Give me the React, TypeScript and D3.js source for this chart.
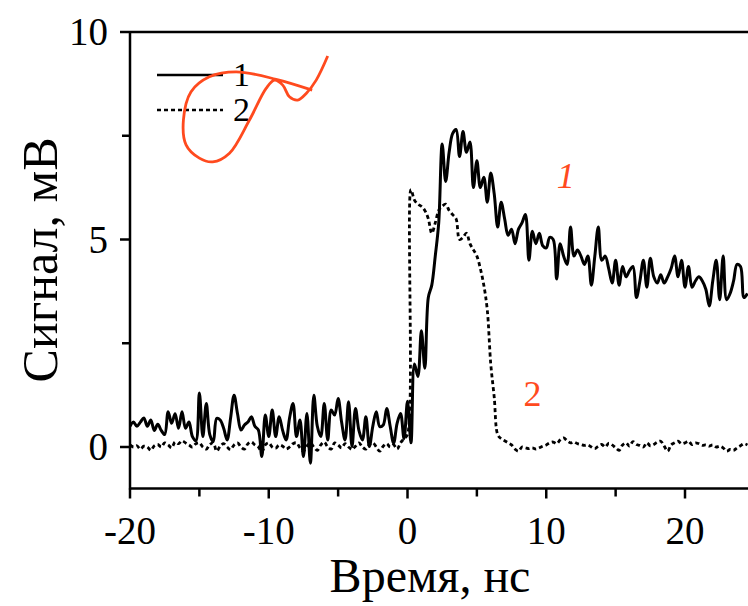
import React from 'react';
import * as d3 from 'd3';

// sampling of both traces: start time and step, ns
const T0 = -20;
const DT = 0.25;

// curve 1 (solid), mV
const signal1 = [
  0.5, 0.6, 0.5, 0.6, 0.7, 0.5, 0.65, 0.4, 0.55, 0.4,
  0.3, 0.85, 0.57, 0.8, 0.45, 0.85, 0.45, 0.6, 0.25, 0.15,
  1.3, 0.25, 1.05, 0.3, 0.13, 0.69, 0.65, 0.45, 0.17, 0.7,
  1.25, 0.8, 0.41, 0.53, 0.6, 0.73, 0.5, 0.41, -0.23, 0.77,
  0.25, 0.89,
  0.25, 0.73, 0.4, 0.17, 0.7, 1.05, 0.25, 0.65, -0.23, 0.81,
  -0.39, 1.25, 0.5, 0.25, 1.05, 0.17, 0.89, 0.77, 1.17, 0.6,
  0.17, 1.09, 0.01, 0.93, 0.4, 0.17, 0.73, 0.01, 0.5, 0.85,
  0.49, 0.53, 0.93, 0.5, 0.09, 0.57, 0.81, 0.2,
  1.1, 0.1, 2.0, 1.7, 2.8, 1.9, 3.6, 3.9, 4.6, 5.4,
  7.3, 6.4, 7.1, 7.55, 7.65, 7.0, 7.6, 7.1, 7.35, 6.25,
  6.9, 6.25, 6.5, 5.9, 6.6, 6.1, 5.3, 5.9,
  5.5, 5.1, 5.25, 4.9, 5.25, 5.4, 5.6, 4.5, 5.2, 4.9, 5.15, 4.85,
  4.8, 5.05, 5.0, 4.05, 4.9, 4.6, 4.4, 5.3, 4.6, 4.75, 4.6, 4.4,
  4.6, 3.9, 4.6, 5.3, 4.5, 4.6, 4.3, 3.95, 4.5, 3.9, 4.35, 4.1,
  4.25, 4.35, 3.6, 4.0, 4.5, 3.85, 4.55, 4.1, 3.95, 4.15, 3.95, 4.1,
  4.3, 4.6, 4.1, 4.5, 3.85, 4.35, 3.85, 4.0, 4.1, 4.0, 3.8, 3.4,
  4.0, 4.5, 3.55, 4.6, 3.55, 3.7, 4.0, 4.4, 4.35, 3.6, 3.7,
];

// curve 2 (dashed), mV
const signal2 = [
  0.05, 0.0, 0.03, -0.05, 0.02, 0.0, -0.08, 0.03, 0.06, 0.0,
  0.1, 0.05, -0.02, 0.12, 0.08, 0.15, 0.1, 0.05, 0.0, 0.08,
  0.1, 0.0, -0.05, 0.06, 0.1, -0.1, 0.02, 0.08, 0.0, -0.06,
  0.05, 0.1, 0.0, -0.05, 0.08, 0.12, 0.05, 0.0, -0.12, 0.05,
  0.1, 0.0, -0.03, 0.05, 0.02, -0.05, 0.0, 0.08, 0.1, -0.02,
  -0.1, 0.02, 0.1, 0.0, -0.08, 0.05, 0.12, 0.0, -0.05, 0.1,
  0.05, -0.02, 0.08, 0.0, -0.06, 0.02, 0.1, 0.0, -0.05, 0.06,
  0.1, 0.0, -0.1, 0.02, 0.08, 0.0, 0.05, -0.05, 0.1, 0.2,
  0.3, 6.2, 5.95, 5.85, 5.8, 5.7, 5.5, 5.15, 5.4, 5.7,
  5.8, 5.85, 5.7, 5.6, 5.5, 5.0, 5.05, 5.15, 4.9, 4.75,
  4.6, 4.3, 3.9, 3.3, 2.0, 1.2, 0.3, 0.2,
  0.15, 0.1, 0.05, -0.05, -0.1, 0.0, -0.02, -0.04, -0.02, -0.05, -0.02, 0.02,
  0.05, 0.1, 0.12, 0.08, 0.17, 0.22, 0.15, 0.1, 0.12, 0.08, 0.06, 0.04,
  0.05, 0.0, -0.04, 0.02, 0.06, 0.0, 0.09, 0.05, -0.02, -0.08, 0.05, 0.1,
  0.02, 0.13, 0.06, 0.04, 0.0, 0.1, 0.03, 0.06, 0.12, 0.14, 0.02, -0.1,
  0.05, 0.1, 0.14, 0.08, 0.1, 0.14, 0.06, 0.1, 0.08, 0.04, 0.05, 0.02,
  0.05, 0.0, 0.02, -0.02, -0.1, -0.06, -0.08, -0.02, 0.03, 0.08, 0.05,
];

const xMajor = [-20, -10, 0, 10, 20];
const xMinor = [-15, -5, 5, 15];
const yMajor = [0, 5, 10];
const yMinor = [2.5, 7.5];
const legend = ['1', '2'];

// red hand-drawn mark in the upper left, in data units
const scribble: [number, number][] = [
  [-6.87, 8.6], [-9.47, 8.86], [-12.35, 9.04], [-14.28, 8.92], [-15.6, 8.56],
  [-16.15, 7.88], [-15.96, 7.28], [-15.0, 6.96], [-14.04, 6.87], [-12.83, 7.08],
  [-11.39, 7.88], [-10.19, 8.64], [-9.59, 8.84], [-8.99, 8.72], [-8.51, 8.44],
  [-7.91, 8.36], [-7.3, 8.52], [-6.58, 8.84], [-5.75, 9.42],
];

const RED = '#ff4a1e';
const FONT = '"Liberation Serif", "Times New Roman", serif';

export default function App() {
  const width = 748;
  const height = 606;
  const left = 130;
  const bottom = 488.5;
  const top = 32;

  const x = d3.scaleLinear().domain([-20, 24.54]).range([left, width]);
  const y = d3.scaleLinear().domain([-1, 10]).range([bottom, top]);

  const pts = (vals: number[]) =>
    vals.map((v, i) => [T0 + i * DT, v] as [number, number]);

  const line = d3.line<[number, number]>()
    .x(d => x(d[0]))
    .y(d => y(d[1]))
    .curve(d3.curveCatmullRom.alpha(0.5));

  return (
    <svg width={width} height={height}
      style={{ position: 'absolute', left: 0, top: 0, background: '#fff' }}
      fontFamily={FONT}>
      <defs>
        <clipPath id="plot">
          <rect x={left} y={top} width={width - left} height={bottom - top} />
        </clipPath>
      </defs>

      {/* traces */}
      <g clipPath="url(#plot)">
        <path d={line(pts(signal2)) || ''} fill="none" stroke="#000"
          strokeWidth={2.8} strokeDasharray="4,3" />
        <path d={line(pts(signal1)) || ''} fill="none" stroke="#000"
          strokeWidth={3} strokeLinejoin="round" />
      </g>

      {/* axes */}
      <line x1={left} x2={width} y1={bottom} y2={bottom} stroke="#000" strokeWidth={2.5} />
      <line x1={left} x2={left} y1={top} y2={bottom + 1} stroke="#000" strokeWidth={2.5} />
      <line x1={left} x2={width} y1={y(10)} y2={y(10)} stroke="#000" strokeWidth={2.5} />
      {xMajor.map(v => (
        <g key={'xm' + v}>
          <line x1={x(v)} x2={x(v)} y1={bottom} y2={bottom + 10} stroke="#000" strokeWidth={2.5} />
          <text x={x(v)} y={bottom + 55} fontSize={39} textAnchor="middle">{v}</text>
        </g>
      ))}
      {xMinor.map(v => (
        <line key={'xn' + v} x1={x(v)} x2={x(v)} y1={bottom} y2={bottom + 8} stroke="#000" strokeWidth={2.5} />
      ))}
      {yMajor.map(v => (
        <g key={'ym' + v}>
          <line x1={left - 10} x2={left} y1={y(v)} y2={y(v)} stroke="#000" strokeWidth={2.5} />
          <text x={left - 22} y={y(v) + 13} fontSize={39} textAnchor="end">{v}</text>
        </g>
      ))}
      {yMinor.map(v => (
        <line key={'yn' + v} x1={left - 8} x2={left} y1={y(v)} y2={y(v)} stroke="#000" strokeWidth={2.5} />
      ))}

      <text x={430} y={592} fontSize={48} textAnchor="middle">Время, нс</text>
      <text transform={`translate(57, ${260}) rotate(-90)`} fontSize={50} textAnchor="middle">Сигнал, мВ</text>

      {/* legend */}
      {legend.map((name, i) => (
        <g key={name} transform={`translate(157, ${75 + i * 35})`}>
          <line x1={0} x2={66} y1={0} y2={0} stroke="#000" strokeWidth={2.6}
            strokeDasharray={i === 1 ? '4,3' : undefined} />
          <text x={76} y={11} fontSize={34}>{name}</text>
        </g>
      ))}

      {/* red annotations */}
      <path d={line(scribble) || ''} fill="none" stroke={RED} strokeWidth={2.8} />
      <text x={x(11.4)} y={y(6.25)} fontSize={36} fontStyle="italic" fill={RED} textAnchor="middle">1</text>
      <text x={x(9.0)} y={y(1.0)} fontSize={36} fill={RED} textAnchor="middle">2</text>
    </svg>
  );
}
